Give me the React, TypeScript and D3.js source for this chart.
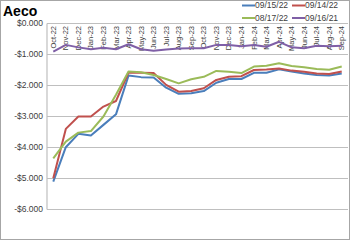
import React from "react";
import * as d3 from "d3";

const months = ["Oct-22","Nov-22","Dec-22","Jan-23","Feb-23","Mar-23","Apr-23","May-23","Jun-23","Jul-23","Aug-23","Sep-23","Oct-23","Nov-23","Dec-23","Jan-24","Feb-24","Mar-24","Apr-24","May-24","Jun-24","Jul-24","Aug-24","Sep-24"];

const s091522 = [-5.10,-3.99,-3.56,-3.61,-3.27,-2.93,-1.68,-1.73,-1.74,-2.07,-2.27,-2.25,-2.18,-1.91,-1.79,-1.79,-1.59,-1.59,-1.48,-1.55,-1.61,-1.66,-1.68,-1.61];
const s091422 = [-4.99,-3.40,-3.00,-3.00,-2.68,-2.50,-1.58,-1.59,-1.60,-1.98,-2.20,-2.18,-2.09,-1.82,-1.72,-1.70,-1.50,-1.48,-1.45,-1.52,-1.56,-1.61,-1.63,-1.55];
const s081722 = [-4.35,-3.81,-3.52,-3.47,-3.00,-2.30,-1.55,-1.57,-1.66,-1.79,-1.93,-1.80,-1.72,-1.53,-1.56,-1.60,-1.39,-1.36,-1.28,-1.37,-1.41,-1.47,-1.49,-1.39];
const s091621 = [-0.91,-0.69,-0.77,-0.83,-0.78,-0.83,-0.67,-0.83,-0.88,-0.84,-0.81,-0.80,-0.80,-0.69,-0.69,-0.73,-0.69,-0.75,-0.59,-0.77,-0.80,-0.72,-0.73,-0.72];

const yTicks = [0, -1, -2, -3, -4, -5, -6];

const seriesNames = ["09/15/22", "09/14/22", "08/17/22", "09/16/21"];
const seriesValues = [s091522, s091422, s081722, s091621];
const colors = ["#4a7ebb", "#c0504d", "#9bbb59", "#7f5fa6"];

const fmt = (v: number) => (v < 0 ? "-$" : "$") + Math.abs(v).toFixed(3);

export default function App() {
  const W = 350, H = 240;
  const left = 47, right = 348, top = 23.5, bottom = 209.5;
  const x = d3.scaleBand<string>().domain(months).range([left, right]);
  const y = d3.scaleLinear().domain([-6, 0]).range([bottom, top]);
  const line = d3.line<number>()
    .x((_, i) => (x(months[i]) as number) + x.bandwidth() / 2)
    .y((d) => y(d));

  const legendPos = [
    { lx: 242, ly: 5.5 },
    { lx: 292, ly: 5.5 },
    { lx: 242, ly: 18 },
    { lx: 292, ly: 18 },
  ];

  return (
    <svg width={W} height={H} style={{ position: "absolute", left: 0, top: 0, fontFamily: "'Liberation Sans', Arial, sans-serif" }}>
      <rect x={0} y={0} width={W} height={H} fill="#ffffff" />
      <rect x={0.5} y={0.5} width={W - 1} height={H - 1} fill="none" stroke="#a6a6a6" />
      <text x={3} y={16} fontSize={14} fontWeight="bold" fill="#000">Aeco</text>

      {yTicks.map((t) => (
        <g key={t}>
          <line x1={left} x2={right} y1={y(t)} y2={y(t)} stroke="#bfbfbf" strokeWidth={1.2} />
          <text x={43} y={y(t)} dy="0.35em" textAnchor="end" fontSize={8.5} fill="#404040">{fmt(t)}</text>
        </g>
      ))}
      <line x1={left} x2={left} y1={top} y2={bottom} stroke="#bfbfbf" strokeWidth={1.2} />

      {months.map((m) => {
        const cx = (x(m) as number) + x.bandwidth() / 2;
        return (
          <text key={m} transform={`translate(${cx + 2.6},${top + 2.5}) rotate(-90)`} textAnchor="end" fontSize={7.5} fill="#404040">{m}</text>
        );
      })}

      {seriesValues.map((vals, i) => (
        <path key={seriesNames[i]} d={line(vals) as string} fill="none" stroke={colors[i]} strokeWidth={2} strokeLinejoin="round" />
      ))}

      {seriesNames.map((n, i) => (
        <g key={n}>
          <line x1={legendPos[i].lx} x2={legendPos[i].lx + 13} y1={legendPos[i].ly} y2={legendPos[i].ly} stroke={colors[i]} strokeWidth={2} />
          <text x={legendPos[i].lx + 13} y={legendPos[i].ly} dy="0.35em" fontSize={8.5} fill="#404040">{n}</text>
        </g>
      ))}
    </svg>
  );
}
